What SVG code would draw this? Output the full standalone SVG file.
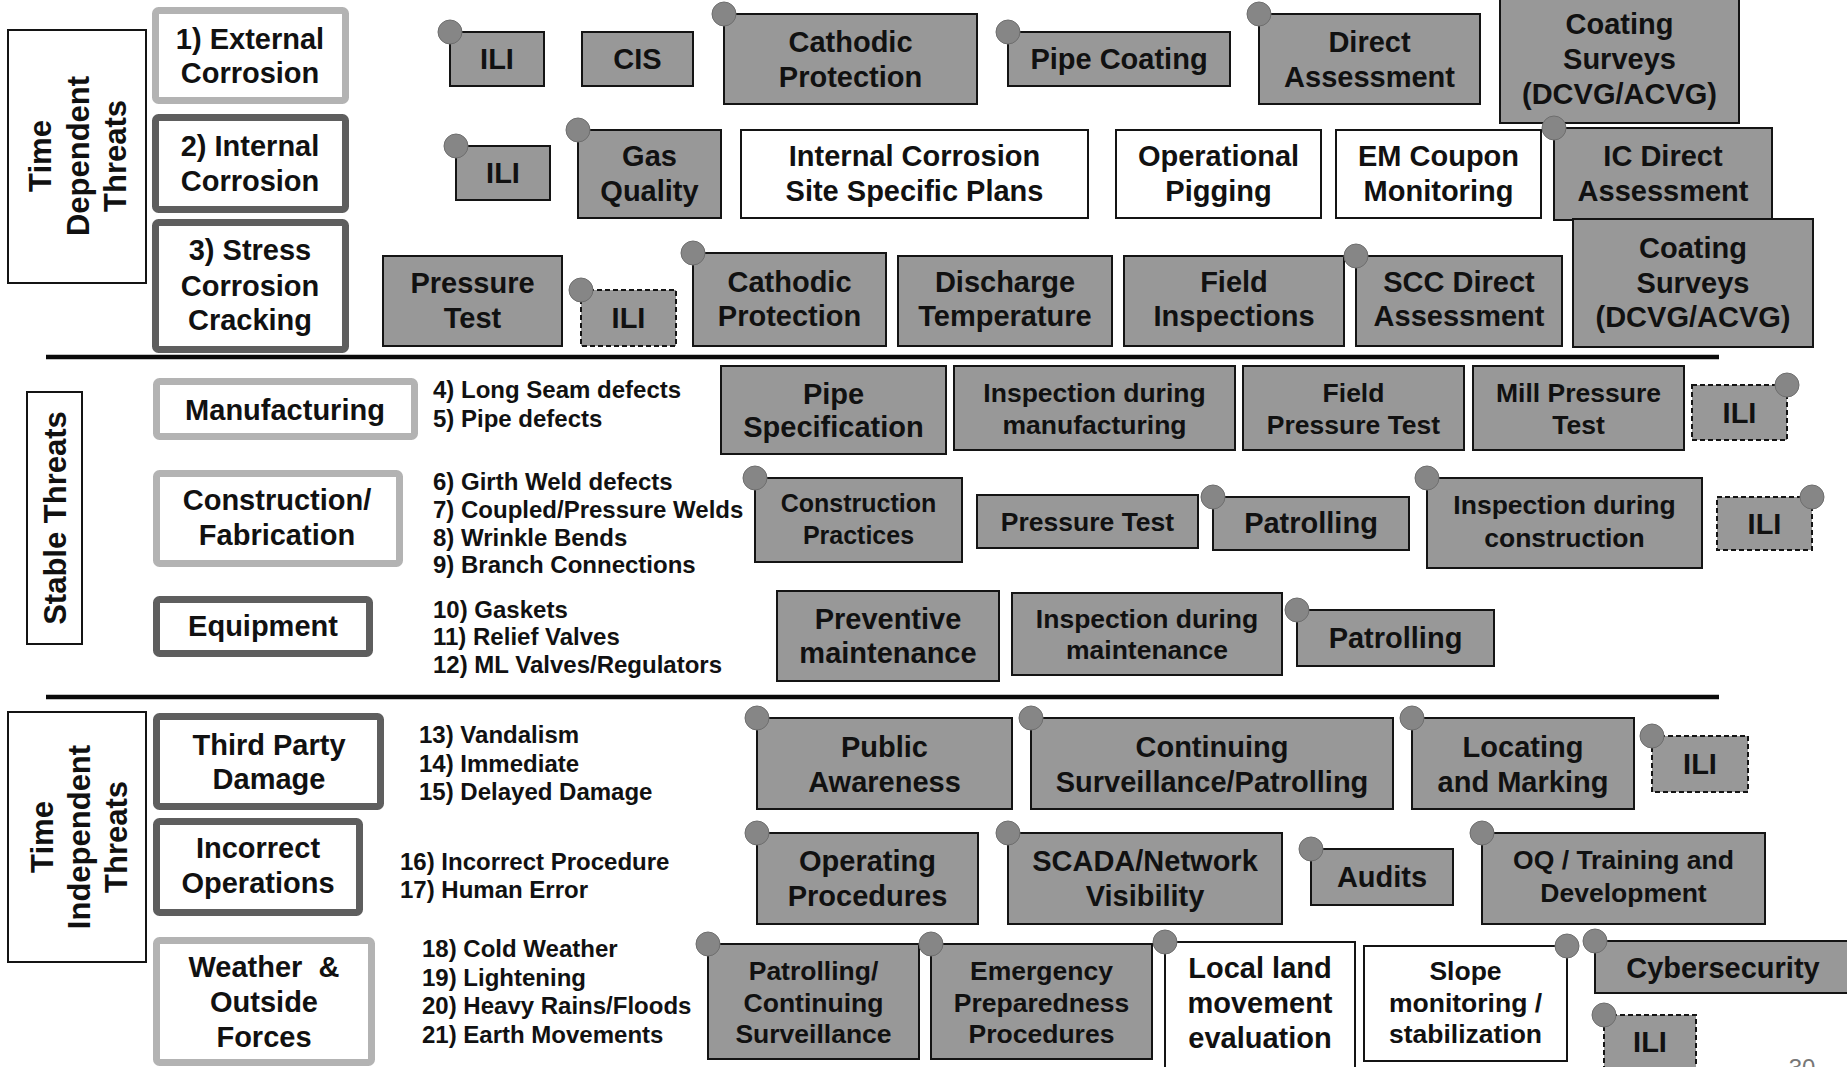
<svg xmlns="http://www.w3.org/2000/svg" width="1847" height="1067" viewBox="0 0 1847 1067">
  <style>
    text { font-family: "Liberation Sans", Arial, sans-serif; font-weight: bold; fill: #111; }
    .c { text-anchor: middle; font-size: 29px; }
    .s { font-size: 26.5px; }
    .xs { font-size: 25px; }
    .v { text-anchor: middle; font-size: 31px; }
    .l { font-size: 24px; }
    .g { fill: #989898; stroke: #141414; stroke-width: 2; }
    .w { fill: #ffffff; stroke: #141414; stroke-width: 2; }
    .dash { fill: #989898; stroke: #141414; stroke-width: 2; stroke-dasharray: 5 3; }
    .tag { fill: #ffffff; stroke: #141414; stroke-width: 2; }
    .catL { fill: #ffffff; stroke: #b3b3b3; stroke-width: 7; }
    .catD { fill: #ffffff; stroke: #5e5e5e; stroke-width: 7; }
    .pin { fill: #868686; stroke: #6e6e6e; stroke-width: 1; }
    .div { stroke: #0a0a0a; stroke-width: 4.5; }
  </style>
  <defs>
    <circle id="dot" r="12" class="pin"/>
  </defs>
  <rect width="1847" height="1067" fill="#ffffff"/>

  <!-- section dividers -->
  <g id="dividers">
    <line class="div" x1="46" y1="357" x2="1719" y2="357"/>
    <line class="div" x1="46" y1="697" x2="1719" y2="697"/>
  </g>

  <!-- section tags -->
  <g id="tag-time-dependent">
    <rect class="tag" x="8" y="30" width="138" height="253"/>
    <g transform="rotate(-90)">
      <text class="v" x="-156" y="51">Time</text>
      <text class="v" x="-156" y="89">Dependent</text>
      <text class="v" x="-156" y="126">Threats</text>
    </g>
  </g>
  <g id="tag-stable">
    <rect class="tag" x="27" y="392" width="55" height="252"/>
    <text class="v" transform="rotate(-90)" x="-518" y="66">Stable Threats</text>
  </g>
  <g id="tag-time-independent">
    <rect class="tag" x="8" y="712" width="138" height="250"/>
    <g transform="rotate(-90)">
      <text class="v" x="-837" y="53">Time</text>
      <text class="v" x="-837" y="90">Independent</text>
      <text class="v" x="-837" y="127">Threats</text>
    </g>
  </g>

  <!-- threat categories -->
  <g id="cat-external-corrosion">
    <rect class="catL" x="155.5" y="10.5" width="190" height="90" rx="3"/>
    <text class="c" x="250" y="49">1) External</text>
    <text class="c" x="250" y="83">Corrosion</text>
  </g>
  <g id="cat-internal-corrosion">
    <rect class="catD" x="155.5" y="117.5" width="190" height="92" rx="3"/>
    <text class="c" x="250" y="156">2) Internal</text>
    <text class="c" x="250" y="191">Corrosion</text>
  </g>
  <g id="cat-scc">
    <rect class="catD" x="155.5" y="222.5" width="190" height="127" rx="3"/>
    <text class="c" x="250" y="260">3) Stress</text>
    <text class="c" x="250" y="296">Corrosion</text>
    <text class="c" x="250" y="330">Cracking</text>
  </g>
  <g id="cat-manufacturing">
    <rect class="catL" x="156.5" y="381.5" width="258" height="55" rx="3"/>
    <text class="c" x="285" y="420">Manufacturing</text>
  </g>
  <g id="cat-construction">
    <rect class="catL" x="156.5" y="473.5" width="243" height="90" rx="3"/>
    <text class="c" x="277" y="510">Construction/</text>
    <text class="c" x="277" y="545">Fabrication</text>
  </g>
  <g id="cat-equipment">
    <rect class="catD" x="156.5" y="599.5" width="213" height="54" rx="3"/>
    <text class="c" x="263" y="636">Equipment</text>
  </g>
  <g id="cat-third-party">
    <rect class="catD" x="156.5" y="716.5" width="224" height="90" rx="3"/>
    <text class="c" x="269" y="755">Third Party</text>
    <text class="c" x="269" y="789">Damage</text>
  </g>
  <g id="cat-incorrect-ops">
    <rect class="catD" x="156.5" y="821.5" width="203" height="91" rx="3"/>
    <text class="c" x="258" y="858">Incorrect</text>
    <text class="c" x="258" y="893">Operations</text>
  </g>
  <g id="cat-weather">
    <rect class="catL" x="156.5" y="940.5" width="215" height="122" rx="3"/>
    <text class="c" x="264" y="977" xml:space="preserve">Weather  &amp;</text>
    <text class="c" x="264" y="1012">Outside</text>
    <text class="c" x="264" y="1047">Forces</text>
  </g>

  <!-- threat lists -->
  <g id="list-manufacturing">
    <text class="l" x="433" y="398">4) Long Seam defects</text>
    <text class="l" x="433" y="427">5) Pipe defects</text>
  </g>
  <g id="list-construction">
    <text class="l" x="433" y="490">6) Girth Weld defects</text>
    <text class="l" x="433" y="518">7) Coupled/Pressure Welds</text>
    <text class="l" x="433" y="546">8) Wrinkle Bends</text>
    <text class="l" x="433" y="573">9) Branch Connections</text>
  </g>
  <g id="list-equipment">
    <text class="l" x="433" y="618">10) Gaskets</text>
    <text class="l" x="433" y="645">11) Relief Valves</text>
    <text class="l" x="433" y="673">12) ML Valves/Regulators</text>
  </g>
  <g id="list-third-party">
    <text class="l" x="419" y="743">13) Vandalism</text>
    <text class="l" x="419" y="772">14) Immediate</text>
    <text class="l" x="419" y="800">15) Delayed Damage</text>
  </g>
  <g id="list-incorrect-ops">
    <text class="l" x="400" y="870">16) Incorrect Procedure</text>
    <text class="l" x="400" y="898">17) Human Error</text>
  </g>
  <g id="list-weather">
    <text class="l" x="422" y="957">18) Cold Weather</text>
    <text class="l" x="422" y="986">19) Lightening</text>
    <text class="l" x="422" y="1014">20) Heavy Rains/Floods</text>
    <text class="l" x="422" y="1043">21) Earth Movements</text>
  </g>

  <!-- external corrosion measures -->
  <g id="ec-ili">
    <rect class="g" x="450" y="32" width="94" height="54"/>
    <use href="#dot" x="450" y="32"/>
    <text class="c" x="497" y="69">ILI</text>
  </g>
  <g id="ec-cis">
    <rect class="g" x="582" y="32" width="111" height="54"/>
    <text class="c" x="637.5" y="69">CIS</text>
  </g>
  <g id="ec-cp">
    <rect class="g" x="724" y="14" width="253" height="90"/>
    <use href="#dot" x="724" y="14"/>
    <text class="c" x="850.5" y="52">Cathodic</text>
    <text class="c" x="850.5" y="87">Protection</text>
  </g>
  <g id="ec-pipe-coating">
    <rect class="g" x="1008" y="32" width="222" height="54"/>
    <use href="#dot" x="1008" y="32"/>
    <text class="c" x="1119" y="69">Pipe Coating</text>
  </g>
  <g id="ec-da">
    <rect class="g" x="1259" y="14" width="221" height="90"/>
    <use href="#dot" x="1259" y="14"/>
    <text class="c" x="1369.5" y="52">Direct</text>
    <text class="c" x="1369.5" y="87">Assessment</text>
  </g>
  <g id="ec-coating-surveys">
    <rect class="g" x="1500" y="-3" width="239" height="126"/>
    <text class="c" x="1619.5" y="34">Coating</text>
    <text class="c" x="1619.5" y="69">Surveys</text>
    <text class="c" x="1619.5" y="104">(DCVG/ACVG)</text>
  </g>

  <!-- internal corrosion measures -->
  <g id="ic-ili">
    <rect class="g" x="456" y="146" width="94" height="54"/>
    <use href="#dot" x="456" y="146"/>
    <text class="c" x="503" y="183">ILI</text>
  </g>
  <g id="ic-gas-quality">
    <rect class="g" x="578" y="130" width="143" height="88"/>
    <use href="#dot" x="578" y="130"/>
    <text class="c" x="649.5" y="166">Gas</text>
    <text class="c" x="649.5" y="201">Quality</text>
  </g>
  <g id="ic-site-plans">
    <rect class="w" x="741" y="130" width="347" height="88"/>
    <text class="c" x="914.5" y="166">Internal Corrosion</text>
    <text class="c" x="914.5" y="201">Site Specific Plans</text>
  </g>
  <g id="ic-pigging">
    <rect class="w" x="1116" y="130" width="205" height="88"/>
    <text class="c" x="1218.5" y="166">Operational</text>
    <text class="c" x="1218.5" y="201">Pigging</text>
  </g>
  <g id="ic-coupon">
    <rect class="w" x="1336" y="130" width="205" height="88"/>
    <text class="c" x="1438.5" y="166">EM Coupon</text>
    <text class="c" x="1438.5" y="201">Monitoring</text>
  </g>
  <g id="ic-da">
    <rect class="g" x="1554" y="128" width="218" height="92"/>
    <use href="#dot" x="1554" y="128"/>
    <text class="c" x="1663" y="166">IC Direct</text>
    <text class="c" x="1663" y="201">Assessment</text>
  </g>

  <!-- stress corrosion cracking measures -->
  <g id="scc-pressure-test">
    <rect class="g" x="383" y="256" width="179" height="90"/>
    <text class="c" x="472.5" y="293">Pressure</text>
    <text class="c" x="472.5" y="328">Test</text>
  </g>
  <g id="scc-ili">
    <rect class="dash" x="581" y="290" width="95" height="56"/>
    <use href="#dot" x="581" y="290"/>
    <text class="c" x="628.5" y="328">ILI</text>
  </g>
  <g id="scc-cp">
    <rect class="g" x="693" y="253" width="193" height="93"/>
    <use href="#dot" x="693" y="253"/>
    <text class="c" x="789.5" y="292">Cathodic</text>
    <text class="c" x="789.5" y="326">Protection</text>
  </g>
  <g id="scc-discharge-temp">
    <rect class="g" x="898" y="256" width="214" height="90"/>
    <text class="c" x="1005" y="292">Discharge</text>
    <text class="c" x="1005" y="326">Temperature</text>
  </g>
  <g id="scc-field-inspections">
    <rect class="g" x="1124" y="256" width="220" height="90"/>
    <text class="c" x="1234" y="292">Field</text>
    <text class="c" x="1234" y="326">Inspections</text>
  </g>
  <g id="scc-da">
    <rect class="g" x="1356" y="256" width="206" height="90"/>
    <use href="#dot" x="1356" y="256"/>
    <text class="c" x="1459" y="292">SCC Direct</text>
    <text class="c" x="1459" y="326">Assessment</text>
  </g>
  <g id="scc-coating-surveys">
    <rect class="g" x="1573" y="219" width="240" height="128"/>
    <text class="c" x="1693" y="258">Coating</text>
    <text class="c" x="1693" y="293">Surveys</text>
    <text class="c" x="1693" y="327">(DCVG/ACVG)</text>
  </g>

  <!-- manufacturing measures -->
  <g id="mf-pipe-spec">
    <rect class="g" x="721" y="366" width="225" height="88"/>
    <text class="c" x="833.5" y="404">Pipe</text>
    <text class="c" x="833.5" y="437">Specification</text>
  </g>
  <g id="mf-inspection">
    <rect class="g" x="954" y="366" width="281" height="84"/>
    <text class="c s" x="1094.5" y="402">Inspection during</text>
    <text class="c s" x="1094.5" y="434">manufacturing</text>
  </g>
  <g id="mf-field-test">
    <rect class="g" x="1243" y="366" width="221" height="84"/>
    <text class="c s" x="1353.5" y="402">Field</text>
    <text class="c s" x="1353.5" y="434">Pressure Test</text>
  </g>
  <g id="mf-mill-test">
    <rect class="g" x="1473" y="366" width="211" height="84"/>
    <text class="c s" x="1578.5" y="402">Mill Pressure</text>
    <text class="c s" x="1578.5" y="434">Test</text>
  </g>
  <g id="mf-ili">
    <rect class="dash" x="1692" y="385" width="95" height="55"/>
    <use href="#dot" x="1787" y="385"/>
    <text class="c" x="1739.5" y="423">ILI</text>
  </g>

  <!-- construction measures -->
  <g id="cf-practices">
    <rect class="g" x="755" y="478" width="207" height="84"/>
    <use href="#dot" x="755" y="478"/>
    <text class="c xs" x="858.5" y="512">Construction</text>
    <text class="c xs" x="858.5" y="544">Practices</text>
  </g>
  <g id="cf-pressure-test">
    <rect class="g" x="977" y="495" width="221" height="53"/>
    <text class="c s" x="1087.5" y="531">Pressure Test</text>
  </g>
  <g id="cf-patrolling">
    <rect class="g" x="1213" y="497" width="196" height="53"/>
    <use href="#dot" x="1213" y="497"/>
    <text class="c" x="1311" y="533">Patrolling</text>
  </g>
  <g id="cf-inspection">
    <rect class="g" x="1427" y="478" width="275" height="90"/>
    <use href="#dot" x="1427" y="478"/>
    <text class="c s" x="1564.5" y="514">Inspection during</text>
    <text class="c s" x="1564.5" y="547">construction</text>
  </g>
  <g id="cf-ili">
    <rect class="dash" x="1717" y="497" width="95" height="53"/>
    <use href="#dot" x="1812" y="497"/>
    <text class="c" x="1764.5" y="534">ILI</text>
  </g>

  <!-- equipment measures -->
  <g id="eq-preventive">
    <rect class="g" x="777" y="591" width="222" height="90"/>
    <text class="c" x="888" y="629">Preventive</text>
    <text class="c" x="888" y="663">maintenance</text>
  </g>
  <g id="eq-inspection">
    <rect class="g" x="1012" y="593" width="270" height="82"/>
    <text class="c s" x="1147" y="628">Inspection during</text>
    <text class="c s" x="1147" y="659">maintenance</text>
  </g>
  <g id="eq-patrolling">
    <rect class="g" x="1297" y="610" width="197" height="56"/>
    <use href="#dot" x="1297" y="610"/>
    <text class="c" x="1395.5" y="648">Patrolling</text>
  </g>

  <!-- third party damage measures -->
  <g id="tp-public-awareness">
    <rect class="g" x="757" y="718" width="255" height="91"/>
    <use href="#dot" x="757" y="718"/>
    <text class="c" x="884.5" y="757">Public</text>
    <text class="c" x="884.5" y="792">Awareness</text>
  </g>
  <g id="tp-surveillance">
    <rect class="g" x="1031" y="718" width="362" height="91"/>
    <use href="#dot" x="1031" y="718"/>
    <text class="c" x="1212" y="757">Continuing</text>
    <text class="c" x="1212" y="792">Surveillance/Patrolling</text>
  </g>
  <g id="tp-locating">
    <rect class="g" x="1412" y="718" width="222" height="91"/>
    <use href="#dot" x="1412" y="718"/>
    <text class="c" x="1523" y="757">Locating</text>
    <text class="c" x="1523" y="792">and Marking</text>
  </g>
  <g id="tp-ili">
    <rect class="dash" x="1652" y="736" width="96" height="56"/>
    <use href="#dot" x="1652" y="736"/>
    <text class="c" x="1700" y="774">ILI</text>
  </g>

  <!-- incorrect operations measures -->
  <g id="io-procedures">
    <rect class="g" x="757" y="833" width="221" height="91"/>
    <use href="#dot" x="757" y="833"/>
    <text class="c" x="867.5" y="871">Operating</text>
    <text class="c" x="867.5" y="906">Procedures</text>
  </g>
  <g id="io-scada">
    <rect class="g" x="1008" y="833" width="274" height="91"/>
    <use href="#dot" x="1008" y="833"/>
    <text class="c" x="1145" y="871">SCADA/Network</text>
    <text class="c" x="1145" y="906">Visibility</text>
  </g>
  <g id="io-audits">
    <rect class="g" x="1311" y="849" width="142" height="56"/>
    <use href="#dot" x="1311" y="849"/>
    <text class="c" x="1382" y="887">Audits</text>
  </g>
  <g id="io-oq">
    <rect class="g" x="1482" y="833" width="283" height="91"/>
    <use href="#dot" x="1482" y="833"/>
    <text class="c s" x="1623.5" y="869">OQ / Training and</text>
    <text class="c s" x="1623.5" y="902">Development</text>
  </g>

  <!-- weather and outside forces measures -->
  <g id="wo-patrolling">
    <rect class="g" x="708" y="944" width="211" height="115"/>
    <use href="#dot" x="708" y="944"/>
    <text class="c s" x="813.5" y="980">Patrolling/</text>
    <text class="c s" x="813.5" y="1012">Continuing</text>
    <text class="c s" x="813.5" y="1043">Surveillance</text>
  </g>
  <g id="wo-emergency">
    <rect class="g" x="931" y="944" width="221" height="115"/>
    <use href="#dot" x="931" y="944"/>
    <text class="c s" x="1041.5" y="980">Emergency</text>
    <text class="c s" x="1041.5" y="1012">Preparedness</text>
    <text class="c s" x="1041.5" y="1043">Procedures</text>
  </g>
  <g id="wo-land-movement">
    <rect class="w" x="1165" y="942" width="190" height="135"/>
    <use href="#dot" x="1165" y="942"/>
    <text class="c" x="1260" y="978">Local land</text>
    <text class="c" x="1260" y="1013">movement</text>
    <text class="c" x="1260" y="1048">evaluation</text>
  </g>
  <g id="wo-slope">
    <rect class="w" x="1364" y="946" width="203" height="115"/>
    <use href="#dot" x="1567" y="946"/>
    <text class="c s" x="1465.5" y="980">Slope</text>
    <text class="c s" x="1465.5" y="1012">monitoring /</text>
    <text class="c s" x="1465.5" y="1043">stabilization</text>
  </g>
  <g id="wo-cyber">
    <rect class="g" x="1595" y="941" width="262" height="52"/>
    <use href="#dot" x="1595" y="941"/>
    <text class="c" x="1723" y="978">Cybersecurity</text>
  </g>
  <g id="wo-ili">
    <rect class="dash" x="1604" y="1015" width="92" height="60"/>
    <use href="#dot" x="1604" y="1015"/>
    <text class="c" x="1650" y="1052">ILI</text>
  </g>

  <!-- page number -->
  <text x="1802" y="1076" text-anchor="middle" style="font-weight: normal; font-size: 24px; fill: #777;">30</text>
</svg>
